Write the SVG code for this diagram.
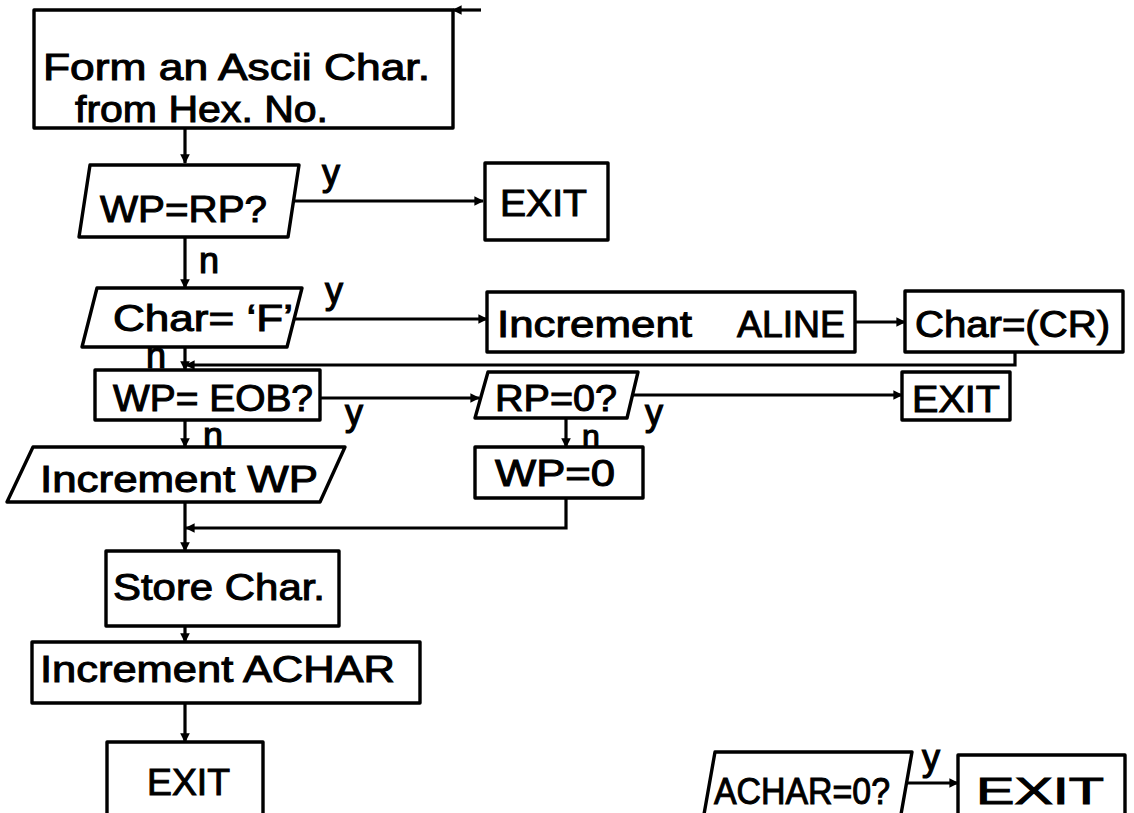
<svg xmlns="http://www.w3.org/2000/svg" width="1134" height="813" viewBox="0 0 1134 813">
<defs>
<marker id="ah" viewBox="0 0 10 10" refX="9" refY="5" markerWidth="3" markerHeight="3" orient="auto" markerUnits="strokeWidth">
<path d="M0,0 L10,5 L0,10 z" fill="#000"/>
</marker>
<style>
.b{fill:#fff;stroke:#000;stroke-width:3.4;stroke-linejoin:round}
.c{fill:none;stroke:#000;stroke-width:3.2}
.t{font-family:"Liberation Sans",Arial,sans-serif;font-size:36px;fill:#000;stroke:#000;stroke-width:1}
.l{font-family:"Liberation Sans",Arial,sans-serif;font-size:36px;fill:#000;stroke:#000;stroke-width:1.2}
</style>
</defs>
<rect width="1134" height="813" fill="#fff"/>
<g id="connectors">
<path class="c" d="M481,10 H453" marker-end="url(#ah)"/>
<path class="c" d="M185,128 V163" marker-end="url(#ah)"/>
<path class="c" d="M294,201 H483" marker-end="url(#ah)"/>
<path class="c" d="M185,237 V288" marker-end="url(#ah)"/>
<path class="c" d="M290,319 H487" marker-end="url(#ah)"/>
<path class="c" d="M855,322 H905" marker-end="url(#ah)"/>
<path class="c" d="M185,347 V370" marker-end="url(#ah)"/>
<path class="c" d="M1015,352 V365 H186" marker-end="url(#ah)"/>
<path class="c" d="M320,398 H479" marker-end="url(#ah)"/>
<path class="c" d="M633,395 H902" marker-end="url(#ah)"/>
<path class="c" d="M566,418 V447" marker-end="url(#ah)"/>
<path class="c" d="M566,498 V528 H186" marker-end="url(#ah)"/>
<path class="c" d="M185,420 V447" marker-end="url(#ah)"/>
<path class="c" d="M185,502 V551" marker-end="url(#ah)"/>
<path class="c" d="M185,626 V642" marker-end="url(#ah)"/>
<path class="c" d="M185,703 V742" marker-end="url(#ah)"/>
<path class="c" d="M905,783 H958" marker-end="url(#ah)"/>
<text class="l" x="322" y="185">y</text>
<text class="l" x="199" y="273">n</text>
<text class="l" x="325" y="303">y</text>
<text class="l" x="146" y="368">n</text>
<text class="l" x="345" y="425">y</text>
<text class="l" x="203" y="448">n</text>
<text class="l" x="645" y="425">y</text>
<text class="l" x="582" y="447" style="font-size:32px">n</text>
<text class="l" x="922" y="770">y</text>
</g>
<g id="form">
<rect class="b" x="34" y="10" width="419" height="118"/>
<text class="t" x="43" y="80" textLength="387" lengthAdjust="spacingAndGlyphs">Form an Ascii Char.</text>
<text class="t" x="75" y="122" textLength="253" lengthAdjust="spacingAndGlyphs">from Hex. No.</text>
</g>
<g id="wprp">
<polygon class="b" points="90,165 299,165 288,237 79,237"/>
<text class="t" x="100" y="222" textLength="167" lengthAdjust="spacingAndGlyphs">WP=RP?</text>
</g>
<g id="exit1">
<rect class="b" x="485" y="163" width="123" height="77"/>
<text class="t" x="500" y="216" textLength="87" lengthAdjust="spacingAndGlyphs">EXIT</text>
</g>
<g id="charf">
<polygon class="b" points="97,288 302,288 287,347 82,347"/>
<text class="t" x="113" y="331" textLength="180" lengthAdjust="spacingAndGlyphs">Char= ‘F’</text>
</g>
<g id="aline">
<rect class="b" x="487" y="292" width="368" height="60"/>
<text class="t" x="497" y="337" textLength="195" lengthAdjust="spacingAndGlyphs">Increment</text>
<text class="t" x="737" y="337" textLength="108" lengthAdjust="spacingAndGlyphs">ALINE</text>
</g>
<g id="charcr">
<rect class="b" x="905" y="291" width="218" height="61"/>
<text class="t" x="915" y="337" textLength="195" lengthAdjust="spacingAndGlyphs">Char=(CR)</text>
</g>
<g id="wpeob">
<rect class="b" x="95" y="370" width="225" height="50"/>
<text class="t" x="113" y="411" textLength="200" lengthAdjust="spacingAndGlyphs">WP= EOB?</text>
</g>
<g id="rp0">
<polygon class="b" points="488,372 638,372 627,418 475,418"/>
<text class="t" x="495" y="411" textLength="122" lengthAdjust="spacingAndGlyphs">RP=0?</text>
</g>
<g id="exit2">
<rect class="b" x="902" y="372" width="108" height="48"/>
<text class="t" x="912" y="412" textLength="88" lengthAdjust="spacingAndGlyphs">EXIT</text>
</g>
<g id="wp0">
<rect class="b" x="475" y="447" width="168" height="51"/>
<text class="t" x="495" y="486" textLength="120" lengthAdjust="spacingAndGlyphs">WP=0</text>
</g>
<g id="incwp">
<polygon class="b" points="33,447 345,447 320,502 7,502"/>
<text class="t" x="40" y="492" textLength="278" lengthAdjust="spacingAndGlyphs">Increment WP</text>
</g>
<g id="store">
<rect class="b" x="106" y="551" width="233" height="75"/>
<text class="t" x="113" y="600" textLength="212" lengthAdjust="spacingAndGlyphs">Store Char.</text>
</g>
<g id="achar">
<rect class="b" x="32" y="642" width="388" height="61"/>
<text class="t" x="40" y="682" textLength="355" lengthAdjust="spacingAndGlyphs">Increment ACHAR</text>
</g>
<g id="exit3">
<rect class="b" x="107" y="742" width="156" height="80"/>
<text class="t" x="147" y="795" textLength="83" lengthAdjust="spacingAndGlyphs">EXIT</text>
</g>
<g id="achar0">
<polygon class="b" points="715,752 912,752 900,820 703,820"/>
<text class="t" x="714" y="804" textLength="176" lengthAdjust="spacingAndGlyphs">ACHAR=0?</text>
</g>
<g id="exit4">
<rect class="b" x="958" y="755" width="167" height="70"/>
<text class="t" x="976" y="804" textLength="128" lengthAdjust="spacingAndGlyphs">EXIT</text>
</g>
</svg>
